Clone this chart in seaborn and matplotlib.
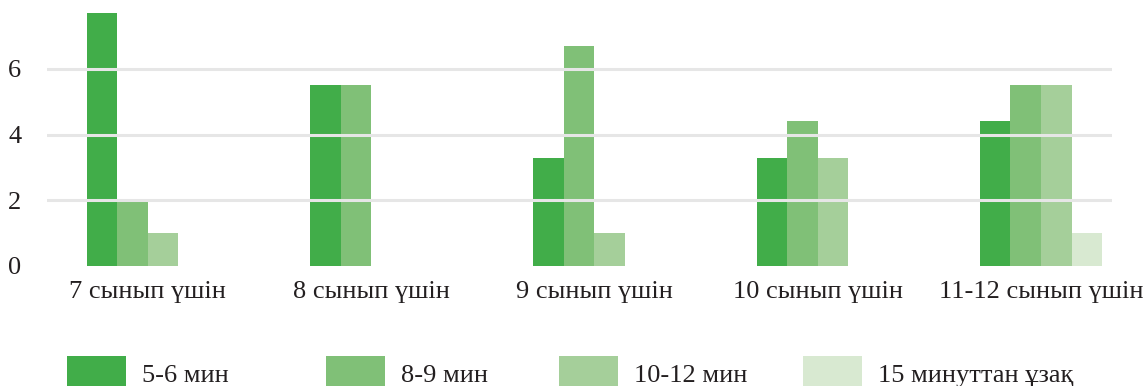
import matplotlib
matplotlib.use("Agg")
import matplotlib.pyplot as plt
import seaborn as sns
import pandas as pd

categories = ["7 сынып үшін", "8 сынып үшін", "9 сынып үшін", "10 сынып үшін", "11-12 сынып үшін"]
series_names = ["5-6 мин", "8-9 мин", "10-12 мин", "15 минуттан ұзақ"]
min_5_6 = [7.7, 5.5, 3.3, 3.3, 4.4]
min_8_9 = [2.0, 5.5, 6.7, 4.4, 5.5]
min_10_12 = [1.0, 0.0, 1.0, 3.3, 5.5]
min_15_plus = [0.0, 0.0, 0.0, 0.0, 1.0]
y_ticks = [0, 2, 4, 6]
colors = ["#41AD49", "#80C077", "#A5CF9A", "#D8E9D1"]

rows = []
for name, vals in zip(series_names, [min_5_6, min_8_9, min_10_12, min_15_plus]):
    for c, v in zip(categories, vals):
        rows.append({"cat": c, "series": name, "value": v})
df = pd.DataFrame(rows)

sns.set_theme(style="white")
plt.rcParams["font.family"] = ["Liberation Serif", "DejaVu Serif"]

W, H = 1147, 386
fig = plt.figure(figsize=(W / 100, H / 100), dpi=100)
ax = fig.add_axes([47 / W, (H - 266) / H, (1112 - 47) / W, 263 / H])

sns.barplot(data=df, x="cat", y="value", hue="series", order=categories,
            hue_order=series_names, palette=colors, width=0.547,
            linewidth=0, saturation=1, ax=ax, zorder=1)

ax.set_ylim(0, 8)
ax.set_xlim(-0.452, 4.318)
ax.set_yticks(y_ticks)
ax.set_yticklabels([str(t) for t in y_ticks], fontsize=19, color="#231F20")
for lbl in ax.get_yticklabels():
    lbl.set_horizontalalignment("left")
ax.tick_params(axis="y", length=0, pad=28)
ax.tick_params(axis="x", length=0, pad=11, labelsize=19, labelcolor="#231F20")
ax.set_xlabel("")
ax.set_ylabel("")
for s in ax.spines.values():
    s.set_visible(False)
for t in y_ticks[1:]:
    ax.axhline(t, color="#E6E6E6", linewidth=2.2, zorder=3)
ax.grid(False)

handles, labels = ax.get_legend_handles_labels()
ax.get_legend().remove()
legend_x = [67, 326, 559, 803]
for h, l, x in zip(handles, labels, legend_x):
    leg = fig.legend([h], [l], loc="upper left", bbox_to_anchor=(x / W, 1 - 356 / H),
                     frameon=False, fontsize=19, handlelength=2.23, handleheight=1.7,
                     handletextpad=0.6, borderpad=0, borderaxespad=0)
    for txt in leg.get_texts():
        txt.set_color("#231F20")

fig.savefig("out.png", dpi=100)
